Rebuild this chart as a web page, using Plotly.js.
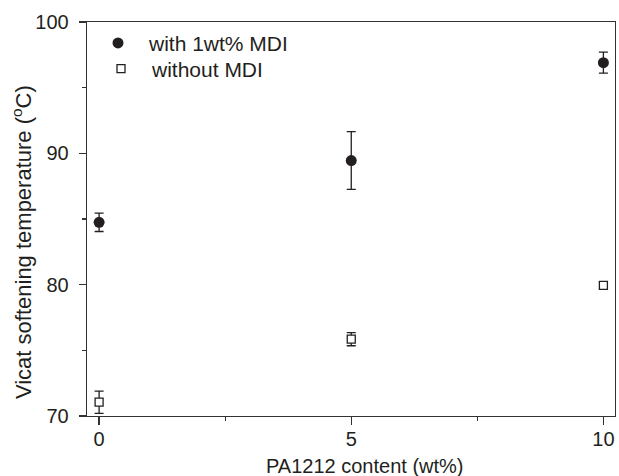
<!DOCTYPE html>
<html>
<head>
<meta charset="utf-8">
<script src="https://cdn.plot.ly/plotly-3.0.1.min.js"></script>
<style>html,body{margin:0;padding:0;background:#fff;}#chart{width:619px;height:476px;}</style>
</head>
<body>
<div id="chart"></div>
<script>
// Data
const pa1212Content = [0, 5, 10];
const withMDI = [84.75, 89.45, 96.9];
const withMDIErr = [0.7, 2.2, 0.8];
const withoutMDI = [71.05, 75.85, 79.95];
const withoutMDIErr = [0.85, 0.5, 0.25];
const seriesNames = ['with 1wt% MDI', 'without MDI'];
const xTicks = [0, 5, 10];
const yTicks = [70, 80, 90, 100];
const xTitle = 'PA1212 content (wt%)';
const yTitle = 'Vicat softening temperature (<sup>o</sup>C)';

const ink = '#231f20';
const axisCol = '#333333';
const fontFam = '"Liberation Sans", Arial, sans-serif';

const traces = [
  {
    x: pa1212Content, y: withMDI, name: seriesNames[0], type: 'scatter', mode: 'markers',
    legend: 'legend',
    marker: {symbol: 'circle', size: 11, color: ink, line: {width: 0}},
    error_y: {type: 'data', array: withMDIErr, visible: true, color: ink, thickness: 1.3, width: 4.5}
  },
  {
    x: pa1212Content, y: withoutMDI, name: seriesNames[1], type: 'scatter', mode: 'markers',
    legend: 'legend2',
    marker: {symbol: 'square', size: 8, color: '#ffffff', line: {width: 1.3, color: ink}},
    error_y: {type: 'data', array: withoutMDIErr, visible: true, color: ink, thickness: 1.3, width: 4.5}
  }
];

const legendBase = {
  xanchor: 'left', yanchor: 'top',
  bgcolor: 'rgba(0,0,0,0)', borderwidth: 0,
  font: {family: fontFam, size: 21, color: ink},
  itemwidth: 52
};

const layout = {
  width: 619, height: 476,
  margin: {l: 87, r: 4, t: 22, b: 60},
  paper_bgcolor: '#ffffff', plot_bgcolor: '#ffffff',
  font: {family: fontFam, color: ink, size: 20},
  showlegend: true,
  legend: Object.assign({}, legendBase, {x: 0.0, y: 0.998}),
  legend2: Object.assign({}, legendBase, {x: 0.0057, y: 0.933}),
  xaxis: {
    range: [-0.24, 10.23], tickmode: 'array', tickvals: xTicks, ticktext: xTicks.map(String),
    showgrid: false, zeroline: false,
    showline: true, linecolor: axisCol, linewidth: 1.3, mirror: true,
    ticks: 'outside', ticklen: 8, tickwidth: 1.3, tickcolor: axisCol, ticklabelstandoff: -3,
    minor: {tickmode: 'array', tickvals: [2.5, 7.5], ticks: 'outside', ticklen: 4, tickwidth: 1.3, tickcolor: axisCol, showgrid: false},
    tickfont: {size: 20, color: ink, family: fontFam}
  },
  yaxis: {
    range: [70, 100], tickmode: 'array', tickvals: yTicks, ticktext: yTicks.map(String),
    showgrid: false, zeroline: false,
    showline: true, linecolor: axisCol, linewidth: 1.3, mirror: true,
    ticks: 'outside', ticklen: 7, tickwidth: 1.3, tickcolor: axisCol, ticklabelstandoff: 6,
    minor: {tickmode: 'array', tickvals: [75, 85, 95], ticks: 'outside', ticklen: 4, tickwidth: 1.3, tickcolor: axisCol, showgrid: false},
    tickfont: {size: 20, color: ink, family: fontFam}
  },
  annotations: [
    {text: xTitle, xref: 'paper', yref: 'paper', x: 0.5265, y: -0.127, xanchor: 'center', yanchor: 'middle',
     showarrow: false, font: {size: 20, color: ink, family: fontFam}},
    {text: yTitle, xref: 'paper', yref: 'paper', x: -0.123, y: 0.4416, xanchor: 'center', yanchor: 'middle',
     textangle: -90, showarrow: false, font: {size: 22, color: ink, family: fontFam}}
  ]
};

Plotly.newPlot('chart', traces, layout, {displayModeBar: false, staticPlot: true});
</script>
</body>
</html>
